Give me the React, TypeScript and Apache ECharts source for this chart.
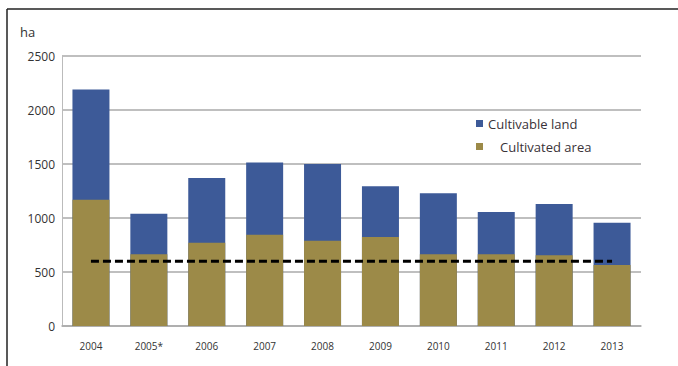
import React, { useEffect, useRef } from "react";
import * as echarts from "echarts";

const categories = ["2004", "2005*", "2006", "2007", "2008", "2009", "2010", "2011", "2012", "2013"];
const cultivableLand = [2190, 1040, 1370, 1515, 1500, 1295, 1230, 1055, 1130, 955];
const cultivatedArea = [1170, 665, 770, 845, 790, 825, 665, 665, 655, 565];
const thresholdLine = [600, 600, 600, 600, 600, 600, 600, 600, 600, 600];
const yTicks = { min: 0, max: 2500, interval: 500 };

export default function App() {
  const ref = useRef<HTMLDivElement>(null);
  useEffect(() => {
    if (!ref.current) return;
    const chart = echarts.init(ref.current, null, { renderer: "svg" });
    const font = "'Open Sans', 'DejaVu Sans', sans-serif";
    chart.setOption({
      animation: false,
      backgroundColor: "#ffffff",
      textStyle: { fontFamily: font },
      grid: { left: 62, right: 37, top: 56, bottom: 40 },
      legend: [
        {
          data: ["Cultivable land"],
          left: 471,
          top: 112,
          icon: "rect",
          itemWidth: 7,
          itemHeight: 7,
          itemGap: 8,
          textStyle: { fontSize: 13, color: "#3a3238", fontFamily: font },
        },
        {
          data: ["Cultivated area"],
          left: 471,
          top: 135,
          icon: "rect",
          itemWidth: 7,
          itemHeight: 7,
          textStyle: { fontSize: 13, color: "#3a3238", fontFamily: font, padding: [0, 0, 0, 12] },
        },
      ],
      xAxis: {
        type: "category",
        data: categories,
        axisTick: { show: false },
        axisLine: { lineStyle: { color: "#aaaaaa", width: 1.5 } },
        axisLabel: { fontSize: 10, color: "#333333", margin: 15 },
      },
      yAxis: {
        type: "value",
        min: yTicks.min,
        max: yTicks.max,
        interval: yTicks.interval,
        axisLine: { show: true, lineStyle: { color: "#bbbbbb", width: 1 } },
        axisTick: { show: false },
        splitLine: { lineStyle: { color: "#aaaaaa", width: 1.5 } },
        axisLabel: {
          fontSize: 12,
          color: "#333333",
          margin: 7,
          formatter: (v: number) => String(v),
        },
      },
      series: [
        {
          name: "Cultivable land",
          type: "bar",
          data: cultivableLand,
          barWidth: 37,
          barGap: "-100%",
          itemStyle: { color: "#3d5a98" },
        },
        {
          name: "Cultivated area",
          type: "bar",
          data: cultivatedArea,
          barWidth: 37,
          barGap: "-100%",
          itemStyle: { color: "#9c8a48" },
        },
        {
          name: "Threshold",
          type: "line",
          data: thresholdLine,
          symbol: "none",
          z: 5,
          lineStyle: { color: "#000000", width: 3, type: [8, 4] },
        },
      ],
      graphic: [
        { type: "line", shape: { x1: 7, y1: 9, x2: 678, y2: 9 }, style: { stroke: "#222222", lineWidth: 1.5 } },
        { type: "line", shape: { x1: 7, y1: 9, x2: 7, y2: 366 }, style: { stroke: "#222222", lineWidth: 1.5 } },
        {
          type: "text",
          left: 20,
          top: 25,
          style: { text: "ha", fontSize: 13, fill: "#333333", fontFamily: font },
        },
      ],
    });
    return () => chart.dispose();
  }, []);
  return (
    <div
      ref={ref}
      style={{ position: "fixed", left: 0, top: 0, width: 678, height: 366 }}
    />
  );
}
